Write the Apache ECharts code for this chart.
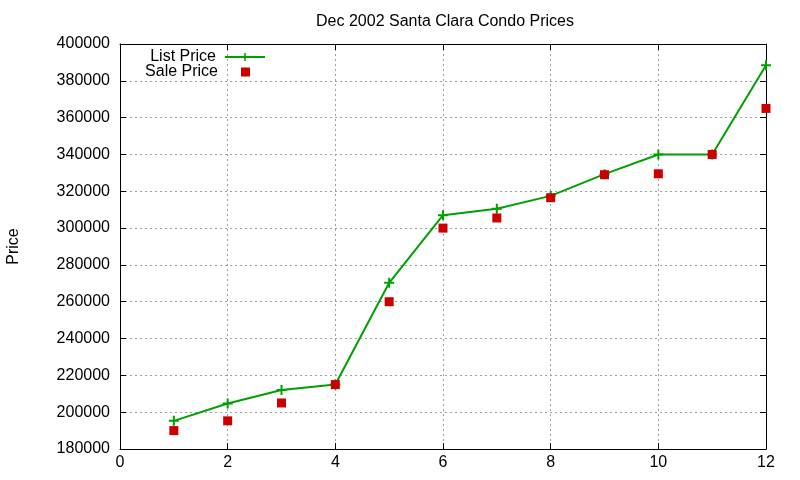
<!DOCTYPE html>
<html>
<head>
<meta charset="utf-8">
<script src="https://cdn.jsdelivr.net/npm/echarts@6/dist/echarts.min.js"></script>
<style>
    html, body { margin: 0; padding: 0; background: #fff; }
    #container { width: 800px; height: 480px; }
</style>
</head>
<body>
<div id="container"></div>
<script type="text/javascript">
    // months (x) and prices
    var months = [1, 2, 3, 4, 5, 6, 7, 8, 9, 10, 11, 12];
    var listPrice = [195300, 204700, 212000, 215000, 270300, 307000, 310500, 317500, 329300, 340000, 340000, 388500];
    var salePrice = [190000, 195300, 205000, 215000, 260000, 300000, 305500, 316500, 329000, 329500, 340000, 365000];

    var FONT = 'Liberation Sans, Arial, sans-serif';
    var GREEN = '#00a000';
    var RED = '#cc0000';
    var plus = 'path://M4,0H6V4H10V6H6V10H4V6H0V4H4Z';

    function pairs(ys) {
        return months.map(function (m, i) { return [m, ys[i]]; });
    }

    var dom = document.getElementById('container');
    var myChart = echarts.init(dom);

    var gridLine = {show: true, lineStyle: {color: '#a0a0a0', type: [2, 3], width: 1}};
    var boxLine = {show: true, onZero: false, lineStyle: {color: '#000', width: 1}};
    var tick = {show: true, inside: true, length: 6, lineStyle: {color: '#000'}};

    var option = {
        animation: false,
        backgroundColor: '#fff',
        textStyle: {fontFamily: FONT},
        title: {
            text: 'Dec 2002 Santa Clara Condo Prices',
            left: 440, top: 9, textAlign: 'center',
            textStyle: {fontFamily: FONT, fontSize: 16, fontWeight: 'normal', color: '#000'}
        },
        legend: [
            {
                data: ['List Price'], right: 534, top: 49, align: 'right', padding: 0,
                itemWidth: 40, itemHeight: 10,
                textStyle: {fontFamily: FONT, fontSize: 16, color: '#000', padding: [0, 4, 0, 0]}
            },
            {
                data: ['Sale Price'], right: 550, top: 64, align: 'right', padding: 0,
                itemWidth: 9, itemHeight: 9, icon: 'rect',
                textStyle: {fontFamily: FONT, fontSize: 16, color: '#000', padding: [0, 18, 0, 0]}
            }
        ],
        grid: {left: 120, right: 34, top: 44, bottom: 31, outerBoundsMode: 'none'},
        xAxis: [
            {
                type: 'value', min: 0, max: 12, interval: 2, position: 'bottom',
                axisLine: boxLine, axisTick: tick,
                axisLabel: {fontFamily: FONT, fontSize: 16, color: '#000', margin: 6},
                splitLine: gridLine
            },
            {
                type: 'value', min: 0, max: 12, interval: 2, position: 'top',
                axisLine: boxLine, axisTick: tick,
                axisLabel: {show: false},
                splitLine: {show: false}
            }
        ],
        yAxis: [
            {
                type: 'value', min: 180000, max: 400000, interval: 20000, position: 'left',
                name: 'Price', nameLocation: 'middle', nameGap: 98, nameRotate: 90,
                nameTextStyle: {fontFamily: FONT, fontSize: 16, color: '#000'},
                axisLine: boxLine, axisTick: tick,
                axisLabel: {
                    fontFamily: FONT, fontSize: 16, color: '#000', margin: 10,
                    formatter: function (v) { return String(v); }
                },
                splitLine: gridLine
            },
            {
                type: 'value', min: 180000, max: 400000, interval: 20000, position: 'right',
                axisLine: boxLine, axisTick: tick,
                axisLabel: {show: false},
                splitLine: {show: false}
            }
        ],
        series: [
            {
                name: 'List Price', type: 'line',
                data: pairs(listPrice),
                symbol: plus, symbolSize: 10, showSymbol: true,
                color: GREEN,
                lineStyle: {color: GREEN, width: 2},
                itemStyle: {color: GREEN},
                z: 3
            },
            {
                name: 'Sale Price', type: 'scatter',
                data: pairs(salePrice),
                symbol: 'rect', symbolSize: 9,
                color: RED,
                itemStyle: {color: RED, opacity: 1},
                z: 4
            }
        ]
    };
    myChart.setOption(option, true);
</script>
</body>
</html>
